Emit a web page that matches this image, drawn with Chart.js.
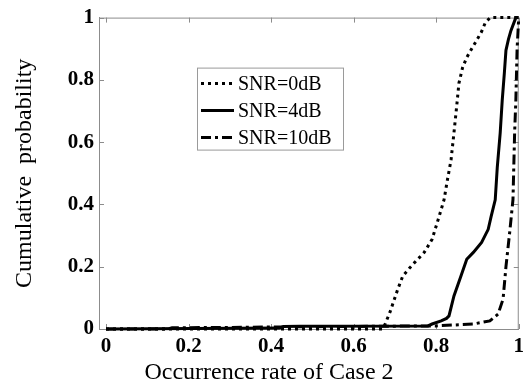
<!DOCTYPE html>
<html>
<head>
<meta charset="utf-8">
<script src="https://cdn.jsdelivr.net/npm/chart.js@4.4.0/dist/chart.umd.min.js"></script>
<style>
  body { margin: 0; background: #fff; }
  #wrap { width: 529px; height: 388px; position: relative; }
</style>
</head>
<body>
<div id="wrap"><canvas id="cdf_chart"></canvas></div>
<script>
  var seriesNames = ["SNR=0dB", "SNR=4dB", "SNR=10dB"];

  // SNR=0dB (dotted)
  var snr0X = [0, 0.67, 0.675, 0.688, 0.707, 0.719, 0.735, 0.748, 0.771, 0.79, 0.807, 0.819, 0.826, 0.836, 0.843, 0.85, 0.855, 0.864, 0.874, 0.886, 0.898, 0.91, 0.919, 0.931, 1];
  var snr0Y = [0, 0, 0.012, 0.054, 0.128, 0.17, 0.195, 0.214, 0.246, 0.288, 0.361, 0.415, 0.47, 0.543, 0.63, 0.72, 0.789, 0.84, 0.872, 0.9, 0.927, 0.955, 0.984, 1, 1];

  // SNR=4dB (solid)
  var snr4X = [0, 0.42, 0.43, 0.47, 0.78, 0.79, 0.812, 0.825, 0.831, 0.843, 0.86, 0.874, 0.89, 0.91, 0.926, 0.933, 0.943, 0.948, 0.955, 0.96, 0.965, 0.969, 0.975, 0.981, 0.993, 1];
  var snr4Y = [0, 0.003, 0.008, 0.009, 0.01, 0.016, 0.026, 0.034, 0.042, 0.106, 0.17, 0.224, 0.246, 0.278, 0.32, 0.361, 0.415, 0.52, 0.629, 0.735, 0.82, 0.895, 0.93, 0.958, 1, 1];

  // SNR=10dB (dash-dot)
  var snr10X = [0, 0.15, 0.16, 0.3, 0.45, 0.8, 0.89, 0.93, 0.95, 0.962, 0.969, 0.978, 0.986, 0.99, 0.993, 0.996, 1];
  var snr10Y = [0, 0, 0.004, 0.005, 0.007, 0.01, 0.016, 0.026, 0.048, 0.096, 0.2, 0.31, 0.415, 0.63, 0.735, 0.9, 1];

  var xTicks = [0, 0.2, 0.4, 0.6, 0.8, 1];
  var xTickLabels = ["0", "0.2", "0.4", "0.6", "0.8", "1"];
  var yTicks = [0, 0.2, 0.4, 0.6, 0.8, 1];
  var yTickLabels = ["0", "0.2", "0.4", "0.6", "0.8", "1"];

  var xTitle = "Occurrence rate of Case 2";
  var yTitle = "Cumulative  probability";

  var serif = '"Liberation Serif", "Times New Roman", serif';

  function toPoints(xs, ys) {
    return xs.map(function(x, i) { return {x: x, y: ys[i]}; });
  }

  // box, inward ticks, legend and x title drawn like the matlab figure
  var figureParts = {
    id: 'figureParts',
    beforeDatasetsDraw: function(chart) {
      var ctx = chart.ctx, a = chart.chartArea;
      var xs = chart.scales.x, ys = chart.scales.y;
      ctx.save();
      ctx.strokeStyle = '#8c8c8c';
      ctx.lineWidth = 1;
      ctx.beginPath();
      ctx.moveTo(a.left, a.top + 0.5);
      ctx.lineTo(a.right, a.top + 0.5);
      ctx.moveTo(a.right - 0.5, a.top);
      ctx.lineTo(a.right - 0.5, a.bottom);
      xTicks.forEach(function(v) {
        var px = Math.round(xs.getPixelForValue(v)) + 0.5;
        ctx.moveTo(px, a.bottom); ctx.lineTo(px, a.bottom - 5);
        ctx.moveTo(px, a.top); ctx.lineTo(px, a.top + 5);
      });
      yTicks.forEach(function(v) {
        var py = Math.round(ys.getPixelForValue(v)) + 0.5;
        ctx.moveTo(a.left, py); ctx.lineTo(a.left + 5, py);
        ctx.moveTo(a.right, py); ctx.lineTo(a.right - 5, py);
      });
      ctx.stroke();
      ctx.restore();
    },
    afterDatasetsDraw: function(chart) {
      var ctx = chart.ctx, a = chart.chartArea;
      ctx.save();
      // legend box
      var bx = a.left + 98, by = a.top + 50, bw = 146, bh = 82;
      ctx.fillStyle = '#fff';
      ctx.fillRect(bx, by, bw, bh);
      ctx.strokeStyle = '#9a9a9a';
      ctx.lineWidth = 1;
      ctx.strokeRect(bx + 0.5, by + 0.5, bw, bh);
      ctx.font = '20px ' + serif;
      ctx.textAlign = 'left';
      ctx.textBaseline = 'middle';
      chart.data.datasets.forEach(function(ds, i) {
        var ry = by + 16 + i * 27;
        ctx.beginPath();
        ctx.setLineDash(ds.borderDash || []);
        ctx.lineWidth = ds.borderWidth;
        ctx.strokeStyle = ds.borderColor;
        ctx.moveTo(bx + 4, ry);
        ctx.lineTo(bx + 37, ry);
        ctx.stroke();
        ctx.setLineDash([]);
        ctx.fillStyle = '#000';
        ctx.fillText(ds.label, bx + 41, ry + 1);
      });
      // x title
      ctx.font = '24px ' + serif;
      ctx.textAlign = 'center';
      ctx.fillStyle = '#000';
      ctx.fillText(xTitle, a.left + 170, 373);
      ctx.restore();
    }
  };

  var cdfCanvas = document.getElementById("cdf_chart");
  var cdfChart = new Chart(cdfCanvas, {
      type: 'line',
      data: {
          datasets: [{
              label: seriesNames[0],
              data: toPoints(snr0X, snr0Y),
              borderColor: '#000',
              borderWidth: 3,
              borderDash: [3, 4],
              borderCapStyle: 'butt'
          }, {
              label: seriesNames[1],
              data: toPoints(snr4X, snr4Y),
              borderColor: '#000',
              borderWidth: 3,
              borderCapStyle: 'butt'
          }, {
              label: seriesNames[2],
              data: toPoints(snr10X, snr10Y),
              borderColor: '#000',
              borderWidth: 3,
              borderDash: [10, 4, 3, 4],
              borderCapStyle: 'butt'
          }]
      },
      options: {
          responsive: true,
          maintainAspectRatio: false,
          animation: false,
          clip: false,
          elements: {
              point: { radius: 0 },
              line: { tension: 0, fill: false }
          },
          layout: {
              padding: { top: 17, right: 2, left: 0, bottom: 0 }
          },
          plugins: {
              legend: { display: false },
              tooltip: { enabled: false }
          },
          scales: {
              x: {
                  type: 'linear',
                  min: -0.017,
                  max: 1,
                  grid: { display: false, drawTicks: false },
                  border: { display: true, color: '#8c8c8c' },
                  afterBuildTicks: function(scale) {
                      scale.ticks = xTicks.map(function(v) { return {value: v}; });
                  },
                  afterFit: function(scale) { scale.height = 59; },
                  ticks: {
                      padding: 5,
                      color: '#000',
                      maxRotation: 0,
                      font: { family: serif, size: 21, weight: 'bold' },
                      callback: function(value, index) { return xTickLabels[index]; }
                  }
              },
              y: {
                  type: 'linear',
                  min: 0,
                  max: 1,
                  grid: { display: false, drawTicks: false },
                  border: { display: true, color: '#8c8c8c' },
                  afterBuildTicks: function(scale) {
                      scale.ticks = yTicks.map(function(v) { return {value: v}; });
                  },
                  afterFit: function(scale) { scale.width = 99; },
                  ticks: {
                      padding: 5,
                      color: '#000',
                      font: { family: serif, size: 21, weight: 'bold' },
                      callback: function(value, index) { return yTickLabels[index]; }
                  },
                  title: {
                      display: true,
                      text: yTitle,
                      color: '#000',
                      padding: { top: 10, bottom: 0 },
                      font: { family: serif, size: 24 }
                  }
              }
          }
      },
      plugins: [figureParts]
  });
</script>
</body>
</html>
